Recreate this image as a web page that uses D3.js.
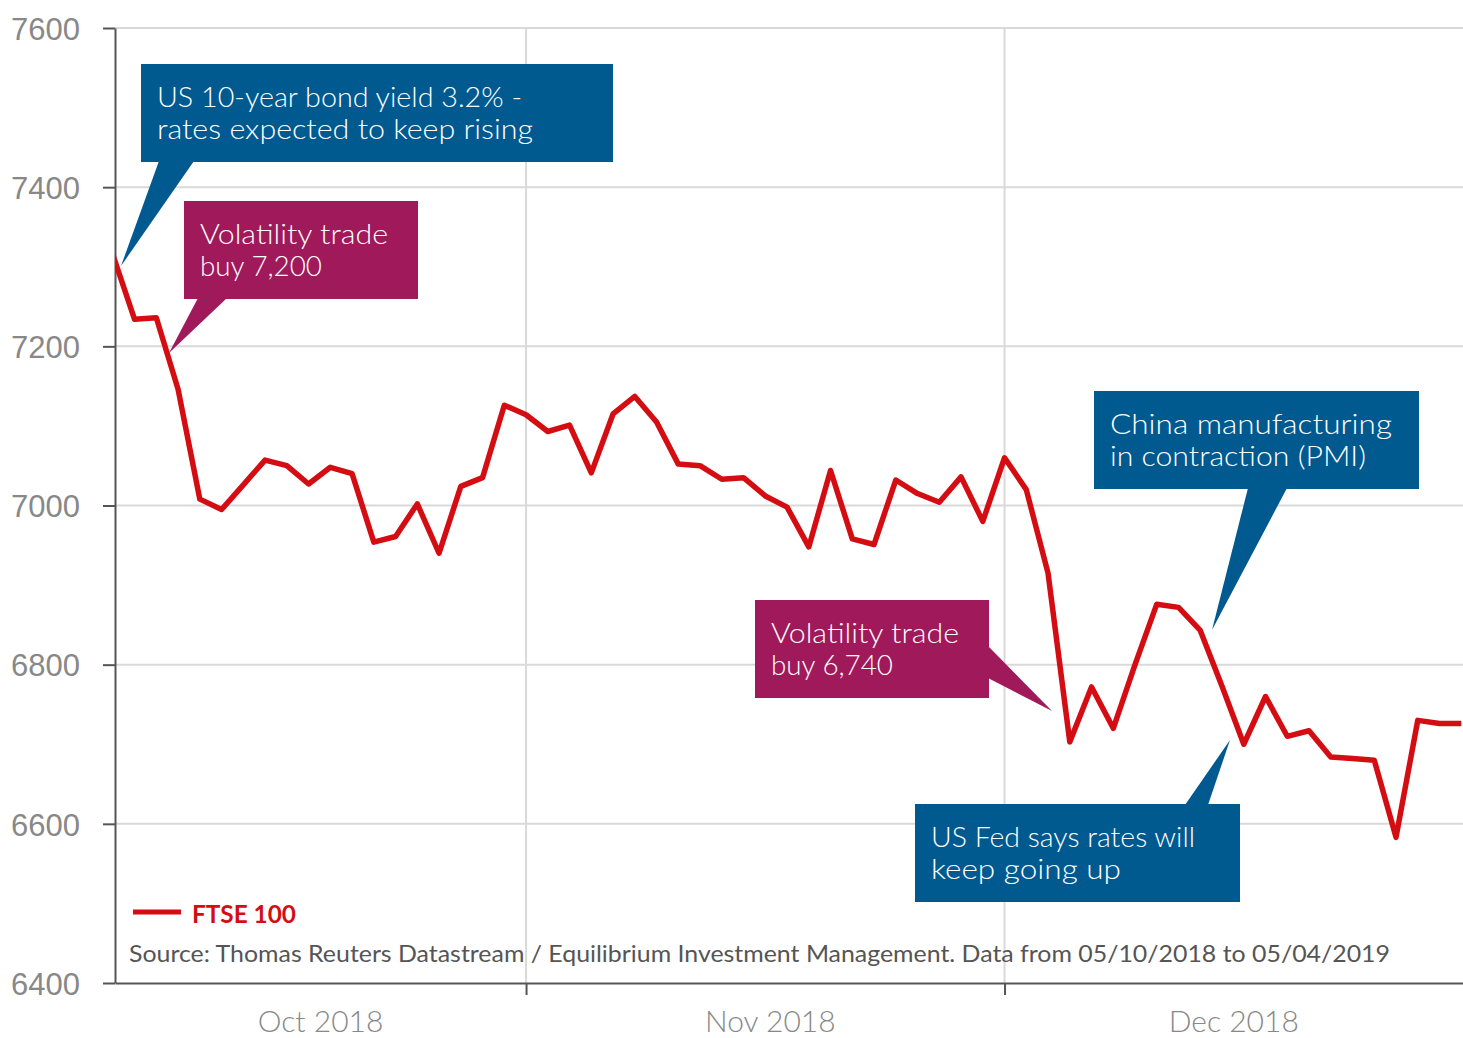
<!DOCTYPE html>
<html>
<head>
<meta charset="utf-8">
<script src="https://cdn.jsdelivr.net/npm/d3@7"></script>
<style>
  body { margin: 0; background: #fff; }
  svg { display: block; font-family: Lato, "Open Sans", sans-serif; }
</style>
</head>
<body>
<div id="chart"></div>
<script>
// trading days (UK, holidays carried flat)
var dates = [
  "2018-10-05","2018-10-08","2018-10-09","2018-10-10","2018-10-11","2018-10-12",
  "2018-10-15","2018-10-16","2018-10-17","2018-10-18","2018-10-19",
  "2018-10-22","2018-10-23","2018-10-24","2018-10-25","2018-10-26",
  "2018-10-29","2018-10-30","2018-10-31","2018-11-01","2018-11-02",
  "2018-11-05","2018-11-06","2018-11-07","2018-11-08","2018-11-09",
  "2018-11-12","2018-11-13","2018-11-14","2018-11-15","2018-11-16",
  "2018-11-19","2018-11-20","2018-11-21","2018-11-22","2018-11-23",
  "2018-11-26","2018-11-27","2018-11-28","2018-11-29","2018-11-30",
  "2018-12-03","2018-12-04","2018-12-05","2018-12-06","2018-12-07",
  "2018-12-10","2018-12-11","2018-12-12","2018-12-13","2018-12-14",
  "2018-12-17","2018-12-18","2018-12-19","2018-12-20","2018-12-21",
  "2018-12-24","2018-12-25","2018-12-26","2018-12-27","2018-12-28",
  "2018-12-31","2019-01-01"
];
var ftse = [
  7315, 7234, 7236, 7146, 7008, 6995,
  7026, 7057, 7050, 7027, 7048,
  7040, 6954, 6961, 7002, 6940,
  7024, 7035, 7126, 7114, 7093,
  7101, 7041, 7115, 7137, 7105,
  7052, 7050, 7033, 7035, 7012,
  6998, 6948, 7044, 6958, 6951,
  7032, 7015, 7004, 7036, 6980,
  7060, 7020, 6915, 6703, 6772,
  6720, 6800, 6876, 6872, 6843,
  6773, 6700, 6760, 6710, 6717,
  6684, 6682, 6680, 6583, 6730,
  6726, 6726
];
var yTicks = [6400, 6600, 6800, 7000, 7200, 7400, 7600];
var monthLabels = ["Oct 2018", "Nov 2018", "Dec 2018"];
var seriesName = "FTSE 100";
var sourceText = "Source: Thomas Reuters Datastream / Equilibrium Investment Management. Data from 05/10/2018 to 05/04/2019";

var notes = [
  {lines: ["US 10-year bond yield 3.2% -", "rates expected to keep rising"], widths: [365, 376],
   box: [141, 64, 472, 98], ptr: [[159,161],[194,161],[121,266]], col: "#005a90"},
  {lines: ["Volatility trade", "buy 7,200"], widths: [188, 122],
   box: [184, 201, 234, 98], ptr: [[198,298],[227,298],[169,353]], col: "#a0195a"},
  {lines: ["China manufacturing", "in contraction (PMI)"], widths: [282, 256],
   box: [1094, 391, 325, 98], ptr: [[1248,488],[1287,488],[1212,630]], col: "#005a90"},
  {lines: ["Volatility trade", "buy 6,740"], widths: [188, 122],
   box: [755, 600, 234, 98], ptr: [[988,646],[988,678],[1052,711]], col: "#a0195a"},
  {lines: ["US Fed says rates will", "keep going up"], widths: [264, 190],
   box: [915, 804, 325, 98], ptr: [[1185,805],[1208,805],[1230,740]], col: "#005a90"}
];

var W = 1463, H = 1038;
var pl = 115, pr = 1463, pt = 28, pb = 983;
var red = "#d40d13";

var svg = d3.select("#chart").append("svg").attr("width", W).attr("height", H);

var x = d3.scaleLinear().domain([0.1, 62.08]).range([pl, pr]);
var y = d3.scaleLinear().domain([6400, 7600]).range([pb, pt]);

var parse = d3.timeParse("%Y-%m-%d");
var data = dates.map(function(d, i){ return {i: i, date: parse(d), v: ftse[i]}; });

// first trading day of each new month inside 2018
var splitTicks = [];
data.forEach(function(d, i){
  if (i > 0 && d.date.getMonth() != data[i-1].date.getMonth() && d.date.getFullYear() == 2018) splitTicks.push(i);
});

// grid
svg.append("g").selectAll("line").data(yTicks.filter(function(t){ return t > 6400; }))
  .enter().append("line")
  .attr("x1", pl).attr("x2", pr)
  .attr("y1", function(d){ return y(d); }).attr("y2", function(d){ return y(d); })
  .attr("stroke", "#d9d9d9").attr("stroke-width", 2);
svg.append("g").selectAll("line").data(splitTicks)
  .enter().append("line")
  .attr("x1", function(d){ return x(d); }).attr("x2", function(d){ return x(d); })
  .attr("y1", pt).attr("y2", pb)
  .attr("stroke", "#d9d9d9").attr("stroke-width", 2);

// axes
var yAxis = svg.append("g").attr("transform", "translate(" + pl + ",0)")
  .call(d3.axisLeft(y).tickValues(yTicks).tickFormat(d3.format("d")).tickSize(12).tickPadding(23).tickSizeOuter(0));
yAxis.select(".domain").attr("stroke", "#555").attr("stroke-width", 2);
yAxis.selectAll(".tick line").attr("stroke", "#555").attr("stroke-width", 2);
yAxis.selectAll(".tick text").attr("fill", "#888").style("font-size", "31px").style("font-weight", 300)
  .attr("dy", "0.36em");

var xAxis = svg.append("g").attr("transform", "translate(0," + pb + ")")
  .call(d3.axisBottom(x).tickValues(splitTicks).tickSize(12).tickFormat("").tickSizeOuter(0));
xAxis.select(".domain").attr("stroke", "#555").attr("stroke-width", 2);
xAxis.selectAll(".tick line").attr("stroke", "#555").attr("stroke-width", 2);

var bounds = [pl].concat(splitTicks.map(function(d){ return x(d); })).concat([pr]);
svg.append("g").selectAll("text").data(monthLabels).enter().append("text")
  .attr("x", function(d, i){ return (bounds[i] + bounds[i+1]) / 2 + (i == 1 ? 5 : 0); })
  .attr("y", 1032)
  .attr("text-anchor", "middle")
  .attr("fill", "#888").style("font-size", "30px").style("font-weight", 300)
  .text(function(d){ return d; });

// line
svg.append("clipPath").attr("id", "plotclip").append("rect")
  .attr("x", pl).attr("y", pt - 5).attr("width", pr - pl).attr("height", pb - pt + 10);

var line = d3.line().x(function(d){ return x(d.i); }).y(function(d){ return y(d.v); });
svg.append("path").datum(data)
  .attr("clip-path", "url(#plotclip)")
  .attr("d", line)
  .attr("fill", "none").attr("stroke", red).attr("stroke-width", 5.5)
  .attr("stroke-linejoin", "round");

// callouts
notes.forEach(function(n){
  var g = svg.append("g");
  g.append("polygon").attr("points", n.ptr.map(function(p){ return p.join(","); }).join(" "))
    .attr("fill", n.col);
  g.append("rect").attr("x", n.box[0]).attr("y", n.box[1]).attr("width", n.box[2]).attr("height", n.box[3])
    .attr("fill", n.col);
  n.lines.forEach(function(t, k){
    g.append("text").attr("x", n.box[0] + 16).attr("y", n.box[1] + 43 + k * 32)
      .attr("fill", "#fff").style("font-size", "27px").style("font-weight", 300)
      .attr("textLength", n.widths[k]).attr("lengthAdjust", "spacingAndGlyphs")
      .text(t);
  });
});

// legend + source
svg.append("line").attr("x1", 133).attr("x2", 181).attr("y1", 912).attr("y2", 912)
  .attr("stroke", red).attr("stroke-width", 5);
svg.append("text").attr("x", 192).attr("y", 923).attr("fill", red)
  .style("font-size", "24px").style("font-weight", 700)
  .attr("textLength", 104).attr("lengthAdjust", "spacingAndGlyphs")
  .text(seriesName);
svg.append("text").attr("x", 129).attr("y", 962).attr("fill", "#555")
  .style("font-size", "23px")
  .attr("textLength", 1261).attr("lengthAdjust", "spacingAndGlyphs")
  .text(sourceText);
</script>
</body>
</html>
